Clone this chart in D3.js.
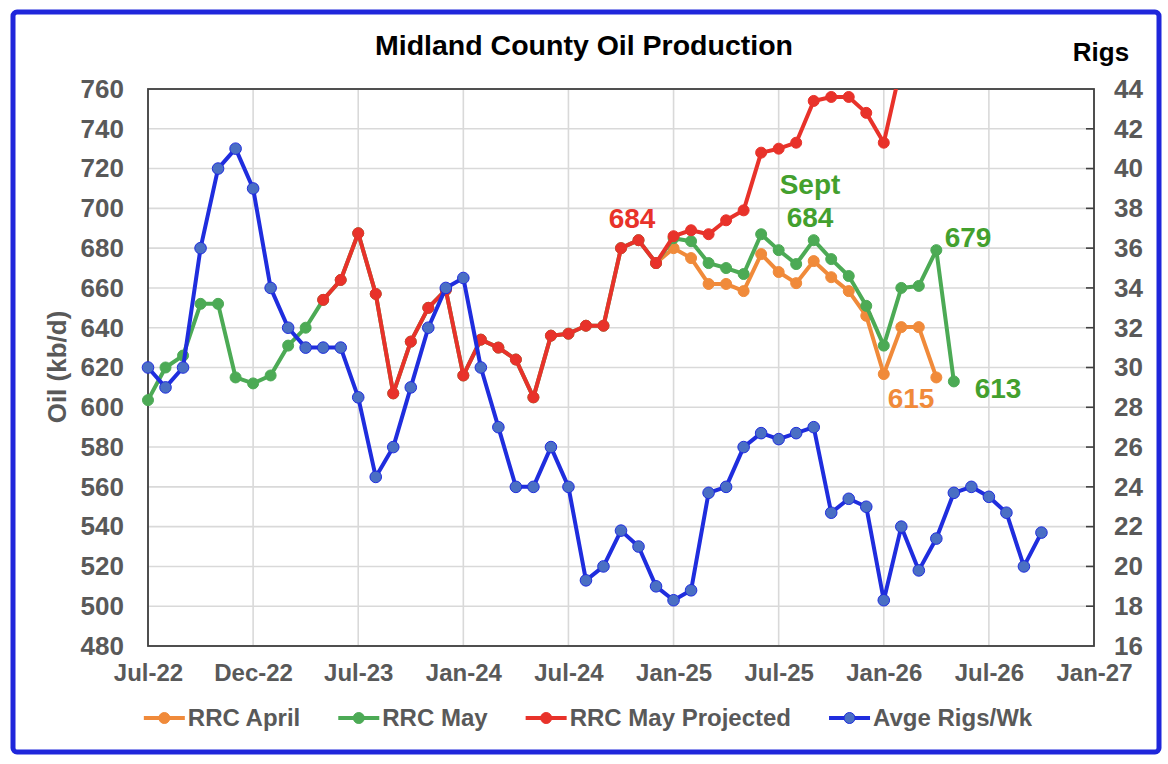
<!DOCTYPE html>
<html>
<head>
<meta charset="utf-8">
<script src="https://cdn.jsdelivr.net/npm/d3@7"></script>
<style>
  html, body { margin: 0; padding: 0; background: #fff; }
  svg { display: block; font-family: "Liberation Sans", Arial, sans-serif; }
</style>
</head>
<body>
<svg id="chart" width="1168" height="764"></svg>
<script>
// ---- Data (month index 0 = Jul-22) ----
const xTickMonths = [0, 6, 12, 18, 24, 30, 36, 42, 48, 54];
const xTickLabels = ["Jul-22", "Dec-22", "Jul-23", "Jan-24", "Jul-24", "Jan-25", "Jul-25", "Jan-26", "Jul-26", "Jan-27"];
const leftTicks = [480, 500, 520, 540, 560, 580, 600, 620, 640, 660, 680, 700, 720, 740, 760];
const rightTicks = [16, 18, 20, 22, 24, 26, 28, 30, 32, 34, 36, 38, 40, 42, 44];

// Avge Rigs/Wk, starting at month 0
const rigsStart = 0;
const rigs = [30, 29, 30, 36, 40, 41, 39, 34, 32, 31, 31, 31, 28.5, 24.5, 26, 29, 32, 34, 34.5, 30,
              27, 24, 24, 26, 24, 19.3, 20, 21.8, 21, 19, 18.3, 18.8, 23.7, 24, 26, 26.7, 26.4, 26.7, 27,
              22.7, 23.4, 23, 18.3, 22, 19.8, 21.4, 23.7, 24, 23.5, 22.7, 20, 21.7];

// RRC May, starting at month 0
const mayStart = 0;
const rrcMay = [603.6, 620, 626, 652, 652, 615, 612, 616, 631, 640,
                654, 664, 687.5, 657, 607, 633, 650, 659, 616, 634, 630, 624, 605, 636, 637, 641, 641, 680, 684, 672.5,
                685, 683.5, 672.5, 670, 667, 687, 679, 672, 684, 674.5, 666, 651, 631, 660, 661, 679, 613];

// RRC April, starting at month 29
const aprilStart = 29;
const rrcApril = [672.5, 680, 675, 662, 662, 658.4, 677, 668, 662.4, 673.5, 665.4, 658.4, 646, 616.7, 640.3, 640.3, 615];

// RRC May Projected, starting at month 10
const projStart = 10;
const rrcProj = [654, 664, 687.5, 657, 607, 633, 650, 659, 616, 634, 630, 624, 605, 636, 637, 641, 641, 680, 684, 672.5,
                 686, 689, 687, 694, 699, 728, 730, 733, 754, 756, 756, 748, 733, 772];

const seriesNames = ["RRC April", "RRC May", "RRC May Projected", "Avge Rigs/Wk"];

// ---- Layout ----
const svg = d3.select("#chart");
const plot = { left: 148, right: 1094, top: 89, bottom: 646 };

const x = d3.scaleLinear().domain([0, 54]).range([plot.left, plot.right]);
const yL = d3.scaleLinear().domain([480, 760]).range([plot.bottom, plot.top]);
const yR = d3.scaleLinear().domain([16, 44]).range([plot.bottom, plot.top]);

const gray = "#595959";
const colors = {
  april: "#F08A3A",
  may: "#4CAA55",
  proj: "#E8322A",
  rigs: "#1F2DDE",
  rigsFill: "#4A6FC4"
};

// Outer frame
svg.append("rect")
  .attr("x", 13).attr("y", 12).attr("width", 1146).attr("height", 740)
  .attr("rx", 4).attr("fill", "#fff").attr("stroke", "#1F26DB").attr("stroke-width", 5);

// Gridlines
svg.append("g").selectAll("line").data(leftTicks).join("line")
  .attr("x1", plot.left).attr("x2", plot.right)
  .attr("y1", d => yL(d)).attr("y2", d => yL(d))
  .attr("stroke", "#D9D9D9").attr("stroke-width", 1.6);
svg.append("g").selectAll("line").data(xTickMonths).join("line")
  .attr("x1", d => x(d)).attr("x2", d => x(d))
  .attr("y1", plot.top).attr("y2", plot.bottom)
  .attr("stroke", "#D9D9D9").attr("stroke-width", 1.6);

// Axes
const leftAxis = d3.axisLeft(yL).tickValues(leftTicks).tickSize(0).tickPadding(24);
const gL = svg.append("g").attr("transform", `translate(${plot.left},0)`).call(leftAxis);
gL.select(".domain").remove();
gL.selectAll("text").attr("fill", gray).attr("font-size", 26).attr("font-weight", "bold")
  .attr("font-family", "Liberation Sans, Arial, sans-serif");

const rightAxis = d3.axisRight(yR).tickValues(rightTicks).tickSize(0).tickPadding(20);
const gR = svg.append("g").attr("transform", `translate(${plot.right},0)`).call(rightAxis);
gR.select(".domain").remove();
gR.selectAll("text").attr("fill", gray).attr("font-size", 26).attr("font-weight", "bold")
  .attr("font-family", "Liberation Sans, Arial, sans-serif");
// inward tick marks on right axis
svg.append("g").selectAll("line").data(rightTicks.slice(1, -1)).join("line")
  .attr("x1", plot.right - 8).attr("x2", plot.right)
  .attr("y1", d => yR(d)).attr("y2", d => yR(d))
  .attr("stroke", "#404040").attr("stroke-width", 1.6);

const bottomAxis = d3.axisBottom(x).tickValues(xTickMonths)
  .tickFormat((d, i) => xTickLabels[i]).tickSize(0).tickPadding(18);
const gB = svg.append("g").attr("transform", `translate(0,${plot.bottom})`).call(bottomAxis);
gB.select(".domain").remove();
gB.selectAll("text").attr("fill", gray).attr("font-size", 24).attr("font-weight", "bold")
  .attr("font-family", "Liberation Sans, Arial, sans-serif");

// Plot border
svg.append("rect")
  .attr("x", plot.left).attr("y", plot.top)
  .attr("width", plot.right - plot.left).attr("height", plot.bottom - plot.top)
  .attr("fill", "none").attr("stroke", "#404040").attr("stroke-width", 1.8);

// Clip
svg.append("defs").append("clipPath").attr("id", "clip")
  .append("rect").attr("x", plot.left - 10).attr("y", plot.top)
  .attr("width", plot.right - plot.left + 20).attr("height", plot.bottom - plot.top + 10);

const gSeries = svg.append("g").attr("clip-path", "url(#clip)");

function drawSeries(values, start, yScale, stroke, fill, markerStroke, r) {
  const pts = values.map((v, i) => ({ m: start + i, v }));
  const line = d3.line().x(d => x(d.m)).y(d => yScale(d.v));
  const g = gSeries.append("g");
  g.append("path").datum(pts).attr("d", line)
    .attr("fill", "none").attr("stroke", stroke).attr("stroke-width", 4)
    .attr("stroke-linejoin", "round");
  g.selectAll("circle").data(pts).join("circle")
    .attr("cx", d => x(d.m)).attr("cy", d => yScale(d.v)).attr("r", r)
    .attr("fill", fill).attr("stroke", markerStroke).attr("stroke-width", 1);
}

drawSeries(rrcApril, aprilStart, yL, colors.april, colors.april, colors.april, 5.5);
drawSeries(rrcMay, mayStart, yL, colors.may, colors.may, colors.may, 5.5);
drawSeries(rrcProj, projStart, yL, colors.proj, colors.proj, colors.proj, 5.5);
drawSeries(rigs, rigsStart, yR, colors.rigs, colors.rigsFill, colors.rigs, 5.8);

// Title & axis titles
svg.append("text").attr("x", 584).attr("y", 55).attr("text-anchor", "middle")
  .attr("font-size", 28.5).attr("font-weight", "bold").attr("fill", "#000")
  .text("Midland County Oil Production");
svg.append("text").attr("x", 1101).attr("y", 61).attr("text-anchor", "middle")
  .attr("font-size", 26).attr("font-weight", "bold").attr("fill", "#000")
  .text("Rigs");
svg.append("text")
  .attr("transform", "translate(66,367) rotate(-90)")
  .attr("text-anchor", "middle")
  .attr("font-size", 26).attr("font-weight", "bold").attr("fill", gray)
  .text("Oil (kb/d)");

// Annotations
const annots = [
  { t: "684", x: 632, y: 228, c: "#E8322A" },
  { t: "Sept", x: 810, y: 194, c: "#43A02E" },
  { t: "684", x: 810, y: 227, c: "#43A02E" },
  { t: "679", x: 968, y: 247, c: "#43A02E" },
  { t: "615", x: 911, y: 408, c: "#F08A3A" },
  { t: "613", x: 998, y: 398, c: "#43A02E" }
];
svg.append("g").selectAll("text").data(annots).join("text")
  .attr("x", d => d.x).attr("y", d => d.y).attr("text-anchor", "middle")
  .attr("font-size", 28).attr("font-weight", "bold").attr("fill", d => d.c)
  .text(d => d.t);

// Legend
const legendColors = [colors.april, colors.may, colors.proj, colors.rigs];
const legendFills = [colors.april, colors.may, colors.proj, colors.rigsFill];
const gLeg = svg.append("g");
const items = gLeg.selectAll("g").data(seriesNames).join("g");
items.append("line").attr("x1", 0).attr("x2", 41).attr("y1", 0).attr("y2", 0)
  .attr("stroke", (d, i) => legendColors[i]).attr("stroke-width", 4);
items.append("circle").attr("cx", 20.5).attr("cy", 0).attr("r", 5.5)
  .attr("fill", (d, i) => legendFills[i]).attr("stroke", (d, i) => legendColors[i]).attr("stroke-width", 1);
items.append("text").attr("x", 44).attr("y", 0).attr("dy", "0.35em")
  .attr("font-size", 24).attr("font-weight", "bold").attr("fill", gray)
  .text(d => d);
let widths = [];
items.each(function () { widths.push(44 + this.querySelector("text").getComputedTextLength()); });
const gap = 38;
const total = d3.sum(widths) + gap * (widths.length - 1);
let cx = 588 - total / 2;
items.attr("transform", (d, i) => {
  const t = `translate(${cx},718)`;
  cx += widths[i] + gap;
  return t;
});
</script>
</body>
</html>
